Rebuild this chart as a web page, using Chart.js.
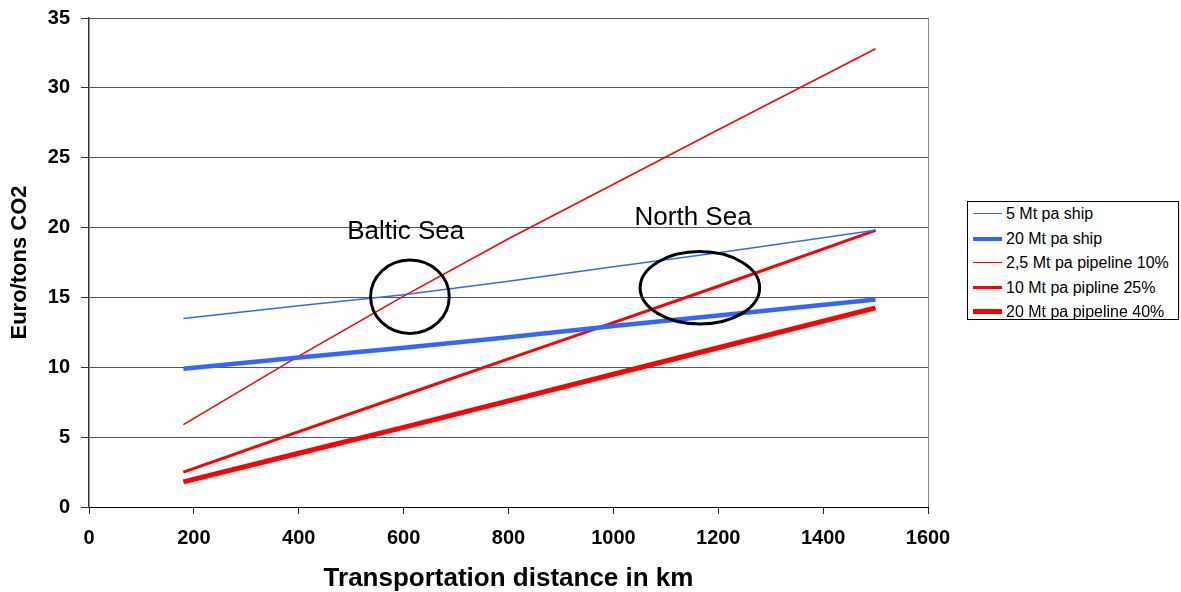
<!DOCTYPE html>
<html>
<head>
<meta charset="utf-8">
<script src="https://cdn.jsdelivr.net/npm/chart.js@4"></script>
<style>
  body { margin: 0; background: #fff; overflow: hidden; }
  #wrap { position: relative; width: 1181px; height: 592px; }
  #legendBox {
    position: absolute; left: 967px; top: 201px; width: 210px; height: 117px;
    border: 1px solid #000; background: #fff;
    font-family: "Liberation Sans", Arial, sans-serif; font-size: 16px; color: #000;
  }
  .lg-row { position: absolute; left: 0; height: 24px; width: 210px; }
  .lg-line { position: absolute; left: 5px; width: 29px; }
  .lg-text { position: absolute; left: 38px; top: 3px; white-space: nowrap; line-height: 18px; }
</style>
</head>
<body>
<div id="wrap">
  <canvas id="costChart" width="1181" height="592"></canvas>
  <div id="legendBox"></div>
</div>
<script>
// transport distance (km) and cost (Euro / ton CO2)
const distances = [180, 400, 600, 800, 1000, 1200, 1500];
const ship5 = [13.5, 14.4, 15.2, 16.15, 17.2, 18.2, 19.8];
const ship20 = [9.9, 10.7, 11.4, 12.15, 12.95, 13.7, 14.85];
const pipe25 = [5.9, 10.8, 15.1, 19.2, 23.1, 27.0, 32.8];
const pipe10 = [2.5, 5.4, 8.0, 10.6, 13.2, 15.8, 19.8];
const pipe20 = [1.8, 3.85, 5.7, 7.6, 9.5, 11.4, 14.25];

const seriesNames = ['5 Mt pa ship', '20 Mt pa ship', '2,5 Mt pa pipeline 10%', '10 Mt pa pipline 25%', '20 Mt pa pipeline 40%'];

// marked regions (data coordinates)
const regionNames = ['Baltic Sea', 'North Sea'];
const regionCenterX = [612, 1165];
const regionCenterY = [15.05, 15.69];
const regionRadiusX = [75, 114];
const regionRadiusY = [2.63, 2.59];
const regionLabelX = [604, 1152];
const regionLabelY = [19.18, 20.19];

const FONT = '"Liberation Sans", Arial, sans-serif';
const BLUE = '#3366ff';
const RED = '#ff0000';

function toPoints(ys) {
    return distances.map((d, i) => ({ x: d, y: ys[i] }));
}

const regionPlugin = {
    id: 'regions',
    afterDatasetsDraw(chart) {
        const { ctx, scales: { x, y } } = chart;
        ctx.save();
        ctx.strokeStyle = '#000';
        ctx.lineWidth = 3;
        regionNames.forEach((name, i) => {
            const cx = x.getPixelForValue(regionCenterX[i]);
            const cy = y.getPixelForValue(regionCenterY[i]);
            const rx = Math.abs(x.getPixelForValue(regionCenterX[i] + regionRadiusX[i]) - cx);
            const ry = Math.abs(y.getPixelForValue(regionCenterY[i] + regionRadiusY[i]) - cy);
            ctx.beginPath();
            ctx.ellipse(cx, cy, rx, ry, 0, 0, Math.PI * 2);
            ctx.stroke();

            ctx.fillStyle = '#000';
            ctx.font = '26px ' + FONT;
            ctx.textAlign = 'center';
            ctx.textBaseline = 'alphabetic';
            ctx.fillText(name, x.getPixelForValue(regionLabelX[i]), y.getPixelForValue(regionLabelY[i]));
        });
        ctx.restore();
    }
};

const ctx = document.getElementById('costChart').getContext('2d');
const chart = new Chart(ctx, {
    type: 'line',
    data: {
        datasets: [
            { label: seriesNames[0], data: toPoints(ship5), borderColor: BLUE, borderWidth: 1.5 },
            { label: seriesNames[1], data: toPoints(ship20), borderColor: BLUE, borderWidth: 4.5 },
            { label: seriesNames[2], data: toPoints(pipe25), borderColor: RED, borderWidth: 1.5 },
            { label: seriesNames[3], data: toPoints(pipe10), borderColor: RED, borderWidth: 3 },
            { label: seriesNames[4], data: toPoints(pipe20), borderColor: RED, borderWidth: 5 }
        ]
    },
    options: {
        responsive: false,
        animation: false,
        layout: { padding: { top: 18, right: 253, bottom: 0, left: 0 } },
        elements: { point: { radius: 0 }, line: { tension: 0, fill: false } },
        plugins: { legend: { display: false }, tooltip: { enabled: false } },
        scales: {
            x: {
                type: 'linear', min: 0, max: 1600,
                afterFit: s => { s.height = 85; },
                ticks: {
                    stepSize: 200, color: '#000', padding: 12,
                    font: { family: FONT, size: 20, weight: 'bold' },
                    callback: v => String(v)
                },
                grid: {
                    color: c => (c.tick && c.tick.value === 1600 ? '#888' : 'rgba(0,0,0,0)'),
                    tickColor: '#222', tickLength: 7
                },
                border: { display: true, color: '#000', width: 1 },
                title: {
                    display: true, text: 'Transportation distance in km', color: '#000',
                    font: { family: FONT, size: 26, weight: 'bold', lineHeight: 1.2 },
                    padding: { top: 0, bottom: -2 }
                }
            },
            y: {
                min: 0, max: 35,
                afterFit: s => { s.width = 89; s.paddingTop = 0; s.paddingBottom = 0; },
                ticks: { stepSize: 5, color: '#000', padding: 11, font: { family: FONT, size: 20, weight: 'bold' } },
                grid: { color: '#555', lineWidth: 1, tickColor: '#333', tickLength: 8 },
                border: { display: true, color: '#333', width: 1.5 },
                title: {
                    display: true, text: 'Euro/tons CO2', color: '#000',
                    font: { family: FONT, size: 22, weight: 'bold', lineHeight: 1.2 },
                    padding: { top: 7, bottom: 0 }
                }
            }
        }
    },
    plugins: [regionPlugin]
});

// legend box with a frame, built from the datasets
const legendBox = document.getElementById('legendBox');
chart.data.datasets.forEach((ds, i) => {
    const row = document.createElement('div');
    row.className = 'lg-row';
    row.style.top = Math.round(i * 24.5) + 'px';
    const h = Math.max(1, Math.round(ds.borderWidth - 0.5));
    const lineTop = 12 - Math.ceil(h / 2);
    row.innerHTML = `<div class="lg-line" style="top:${lineTop}px;height:${h}px;background:${ds.borderColor}"></div>` +
        `<span class="lg-text">${ds.label}</span>`;
    legendBox.appendChild(row);
});
</script>
</body>
</html>
